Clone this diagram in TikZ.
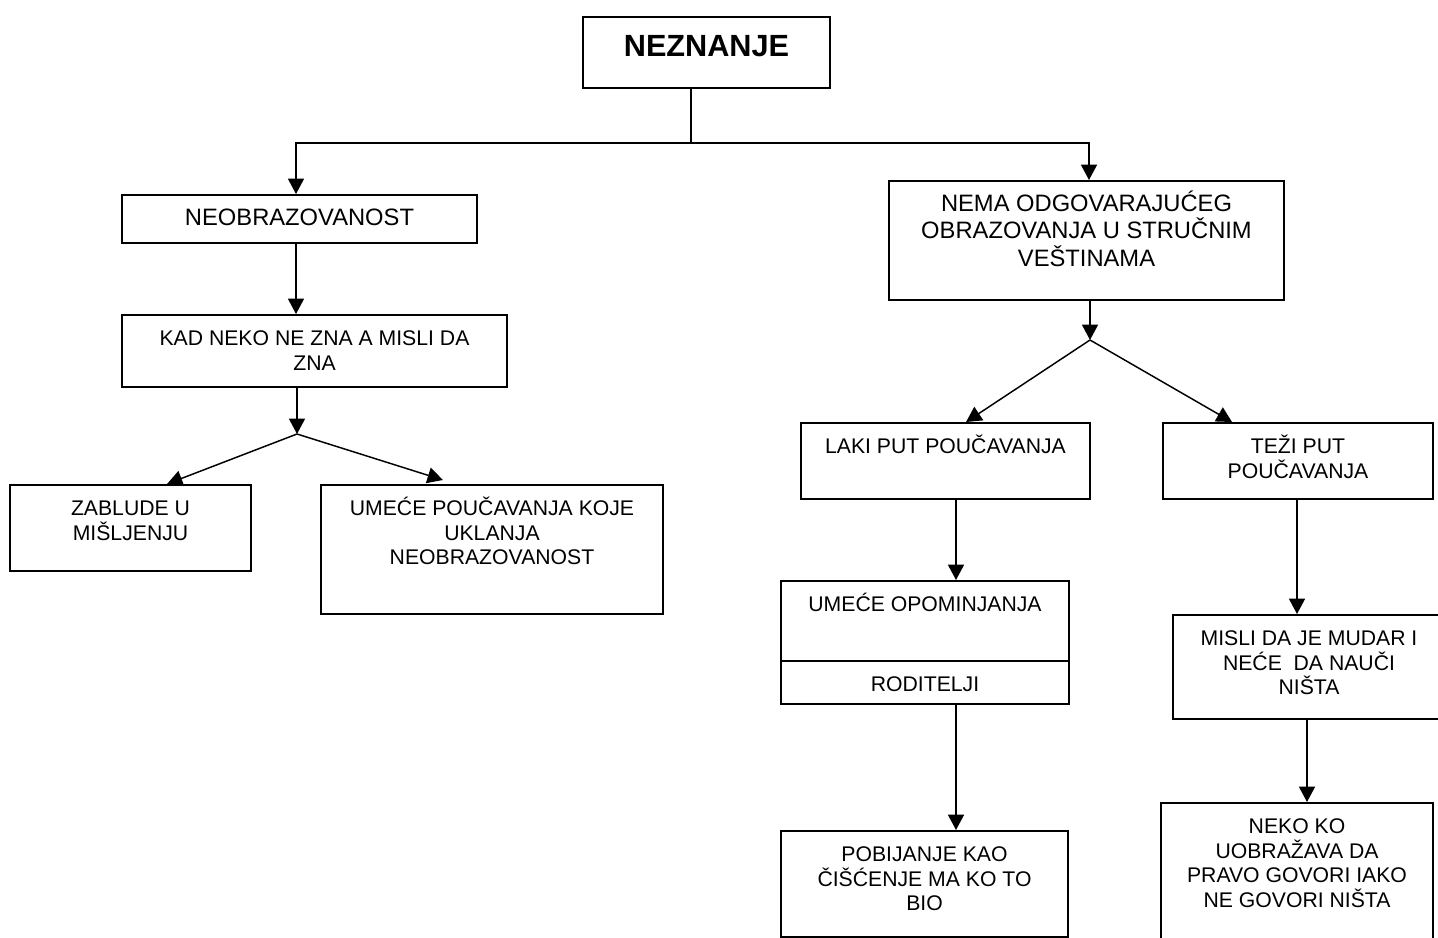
\documentclass[tikz,border=0pt]{standalone}
\usepackage{fontspec}
\setmainfont{Liberation Sans}
\usetikzlibrary{arrows.meta,fit}
\newdimen\pixel \pixel=0.75pt

\begin{document}
\begin{tikzpicture}[x=\pixel,y=-\pixel,
	box/.style={draw, line width=1.5pt, inner sep=0pt},
	txt/.style={anchor=north, align=center, inner sep=0pt},
	wire/.style={line width=1.1pt},
	arrowline/.style={wire, -{Triangle[length=11.5pt,width=12pt]}}]
	\newcommand{\bigfont}{\fontsize{17.8pt}{20.4pt}\selectfont}
	\newcommand{\smallfont}{\fontsize{15.9pt}{18.5pt}\selectfont}
	\useasboundingbox (0,0) rectangle (1438,938);
	% top box
	\node[box, fit={(583,17) (830,88)}] (nez) {};
	\node[txt, font=\bfseries\fontsize{23pt}{27pt}\selectfont] (nez-t) at ([yshift=-12pt]nez.north) {\rule{0pt}{18pt}NEZNANJE};
	\foreach
	\name/\xa/\ya/\xb/\yb/\fnt/\txt
	in
	{
		neob/122/195/477/243/\bigfont/NEOBRAZOVANOST,
		kad/122/315/507/387/\smallfont/KAD NEKO NE ZNA A MISLI DA\\ZNA,
		zab/10/485/251/571/\smallfont/ZABLUDE U\\MIŠLJENJU,
		umc/321/485/663/614/\smallfont/UMEĆE POUČAVANJA KOJE\\UKLANJA\\NEOBRAZOVANOST,
		nema/889/181/1284/300/\bigfont/NEMA ODGOVARAJUĆEG\\OBRAZOVANJA U STRUČNIM\\VEŠTINAMA,
		laki/801/423/1090/499/\smallfont/LAKI PUT POUČAVANJA,
		tezi/1163/423/1433/499/\smallfont/TEŽI PUT\\POUČAVANJA,
		umop/781/581/1069/661/\smallfont/UMEĆE OPOMINJANJA,
		rod/781/661/1069/704/\smallfont/RODITELJI,
		misli/1173/615/1445/719/\smallfont/MISLI DA JE MUDAR I\\NEĆE\ \ DA NAUČI\\NIŠTA,
		pob/781/831/1068/937/\smallfont/POBIJANJE KAO\\ČIŠĆENJE MA KO TO\\BIO,
		neko/1161/803/1433/950/\smallfont/NEKO KO\\UOBRAŽAVA DA\\PRAVO GOVORI IAKO\\NE GOVORI NIŠTA
	}
	{
		\node[box, fit={(\xa,\ya) (\xb,\yb)}] (\name) {};
		\node[txt, font=\fnt] (\name-t) at ([yshift=-5.5pt]\name.north) {\rule{0pt}{18pt}\txt};
	}
	% junctions and columns
	\coordinate (jT) at (691,143);
	\coordinate (jL) at (296,143);
	\coordinate (jR) at (1089,143);
	\coordinate (jK) at (297,434);
	\coordinate (jN) at (1090,340);
	\coordinate (lakiCol) at (956,0);
	\coordinate (teziCol) at (1297,0);
	\coordinate (misliCol) at (1307,0);
	\draw[wire] (jT |- nez.south) -- (jT);
	\draw[arrowline] (jT) -| (jL |- neob.north);
	\draw[arrowline] (jT) -| (jR |- nema.north);
	\draw[arrowline] (jL |- neob.south) -- (jL |- kad.north);
	\draw[arrowline] (jK |- kad.south) -- (jK);
	\draw[arrowline] (jK) -- ([xshift=27.4pt]zab.north);
	\draw[arrowline] (jK) -- ([xshift=-36.8pt,yshift=3pt]umc.north);
	\draw[arrowline] (jN |- nema.south) -- (jN);
	\draw[arrowline] (jN) -- ([xshift=15.4pt]laki.north);
	\draw[arrowline] (jN) -- ([xshift=-49.5pt]tezi.north);
	\draw[arrowline] (lakiCol |- laki.south) -- (lakiCol |- umop.north);
	\draw[arrowline] (lakiCol |- rod.south) -- (lakiCol |- pob.north);
	\draw[arrowline] (teziCol |- tezi.south) -- (teziCol |- misli.north);
	\draw[arrowline] (misliCol |- misli.south) -- (misliCol |- neko.north);
\end{tikzpicture}
\end{document}
